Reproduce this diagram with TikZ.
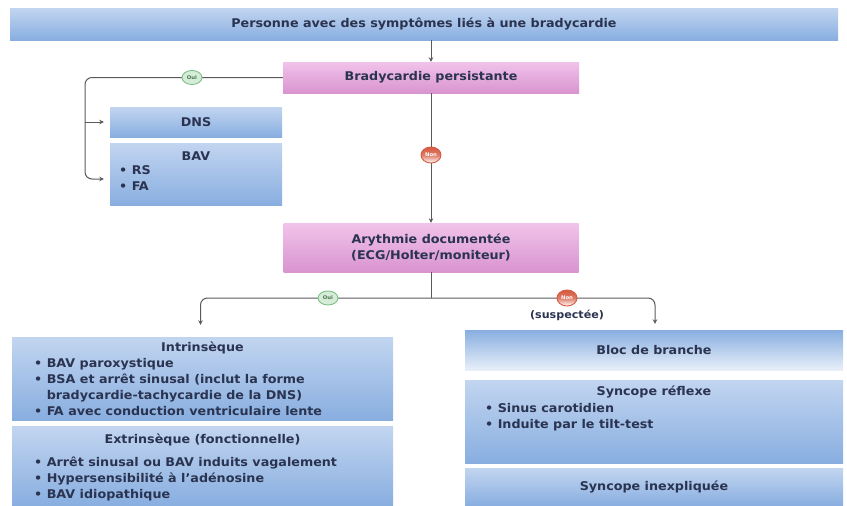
\documentclass[tikz,border=0pt]{standalone}
\usepackage{fontspec}
\setmainfont{DejaVu Sans}[FakeStretch=1.06]
\usetikzlibrary{arrows.meta,calc,shapes.geometric}

\definecolor{txt}{HTML}{2A3350}
\definecolor{linec}{HTML}{5A5A5E}
\definecolor{bluelt}{HTML}{C2D5F0}
\definecolor{bluedk}{HTML}{88AEE0}
\definecolor{bluepale}{HTML}{E8EFF9}
\definecolor{pinklt}{HTML}{F1C3EA}
\definecolor{pinkdk}{HTML}{D994CF}
\definecolor{ouifill}{HTML}{D5EDD6}
\definecolor{ouiline}{HTML}{7DBE85}
\definecolor{nonred}{HTML}{D65A40}

\tikzset{
  txtfont/.style={font=\fontsize{12}{16}\selectfont\bfseries, text=txt},
  boxbase/.style={rectangle, inner sep=0pt, txtfont},
  bluebox/.style={boxbase, top color=bluelt, bottom color=bluedk},
  bluerev/.style={boxbase, top color=bluedk, bottom color=bluepale},
  pinkbox/.style={boxbase, top color=pinklt, bottom color=pinkdk},
  listtext/.style={txtfont, align=left, anchor=north west, inner sep=0pt},
  conn/.style={draw=linec, line width=1pt},
  arr/.style={conn, -{Stealth[length=4.5pt,width=4.5pt]}},
  ouitag/.style={ellipse, draw=ouiline, fill=ouifill, line width=0.9pt,
    minimum width=20pt, minimum height=14pt, inner sep=0pt,
    font=\fontsize{5}{5}\selectfont\bfseries, text=ouiline!60!black},
  nontag/.style={ellipse, draw=nonred, line width=0.9pt,
    top color=nonred, bottom color=white, middle color=nonred!80,
    minimum width=20pt, minimum height=16pt, inner sep=0pt,
    font=\fontsize{5}{5}\selectfont\bfseries, text=white}
}

\begin{document}
\begin{tikzpicture}[x=1pt,y=-1pt]
\useasboundingbox (0,0) rectangle (847,506);

% decision boxes
\node[bluebox, minimum width=828pt, minimum height=32pt] (top) at (424,24)
  {Personne avec des symptômes liés à une bradycardie};
\node[pinkbox, minimum width=296pt, minimum height=31pt] (brady) at (431,77.5)
  {Bradycardie persistante};
\node[pinkbox, minimum width=295pt, minimum height=49pt, align=center] (ary) at (431,247.5)
  {Arythmie documentée\\(ECG/Holter/moniteur)};

% persistent bradycardia outcomes
\node[bluebox, minimum width=172pt, minimum height=30pt] (dns) at (196,122) {DNS};
\node[bluebox, minimum width=172pt, minimum height=62pt] (bav) at (196,174) {};
\node[txtfont, inner sep=0pt] (bavt) at (196,156) {BAV};
\node[listtext] (bavl) at (119,165) {• RS\\• FA};

% documented arrhythmia: left column
\node[bluebox, minimum width=381pt, minimum height=83pt] (intr) at (202.5,378.5) {};
\node[txtfont, inner sep=0pt] (intrt) at (202.5,348) {Intrinsèque};
\node[listtext] (intrl) at (34,358)
  {• BAV paroxystique\\
   • BSA et arrêt sinusal (inclut la forme\\
   \phantom{• }bradycardie-tachycardie de la DNS)\\
   • FA avec conduction ventriculaire lente};
\node[bluebox, minimum width=381pt, minimum height=80pt] (extr) at (202.5,466) {};
\node[txtfont, inner sep=0pt] (extrt) at (202.5,440) {Extrinsèque (fonctionnelle)};
\node[listtext] (extrl) at (34,456.5)
  {• Arrêt sinusal ou BAV induits vagalement\\
   • Hypersensibilité à l’adénosine\\
   • BAV idiopathique};

% documented arrhythmia: right column
\node[bluerev, minimum width=378pt, minimum height=40pt] (bloc) at (654,350) {Bloc de branche};
\node[bluebox, minimum width=378pt, minimum height=83pt] (refl) at (654,421.5) {};
\node[txtfont, inner sep=0pt] (reflt) at (654,392) {Syncope réflexe};
\node[listtext] (refll) at (485,403)
  {• Sinus carotidien\\
   • Induite par le tilt-test};
\node[bluebox, minimum width=378pt, minimum height=38pt] (inexp) at (654,487) {Syncope inexpliquée};

% connectors
\draw[arr] (top.south -| brady.north) -- (brady.north);

\coordinate (lcorner) at (85,179);
\coordinate (dnsj) at (85,122);
\draw[arr, rounded corners=7pt] (brady.west) -| (lcorner) -- ($(bav.west)+(-6,5)$);
\draw[arr] (dnsj) -- ($(dns.west)+(-6,0)$);
\node[ouitag] (oui1) at (192,77.5) {Oui};

\draw[arr] (brady.south) -- (ary.north);
\node[nontag] (non1) at (431,155) {Non};

\coordinate (split) at (431,298);
\draw[conn] (ary.south) -- (split);
\draw[arr, rounded corners=7pt] (split) -| ($(intr.north)+(-2,-12)$);
\draw[arr, rounded corners=7pt] (split) -| ($(bloc.north)+(1,-6)$);
\node[ouitag] (oui2) at (328,298) {Oui};
\node[nontag] (non2) at (567,298) {Non};
\node[txtfont, font=\fontsize{10.5}{11}\selectfont\bfseries, inner sep=0pt] (susp) at (567,315) {(suspectée)};
\end{tikzpicture}
\end{document}
